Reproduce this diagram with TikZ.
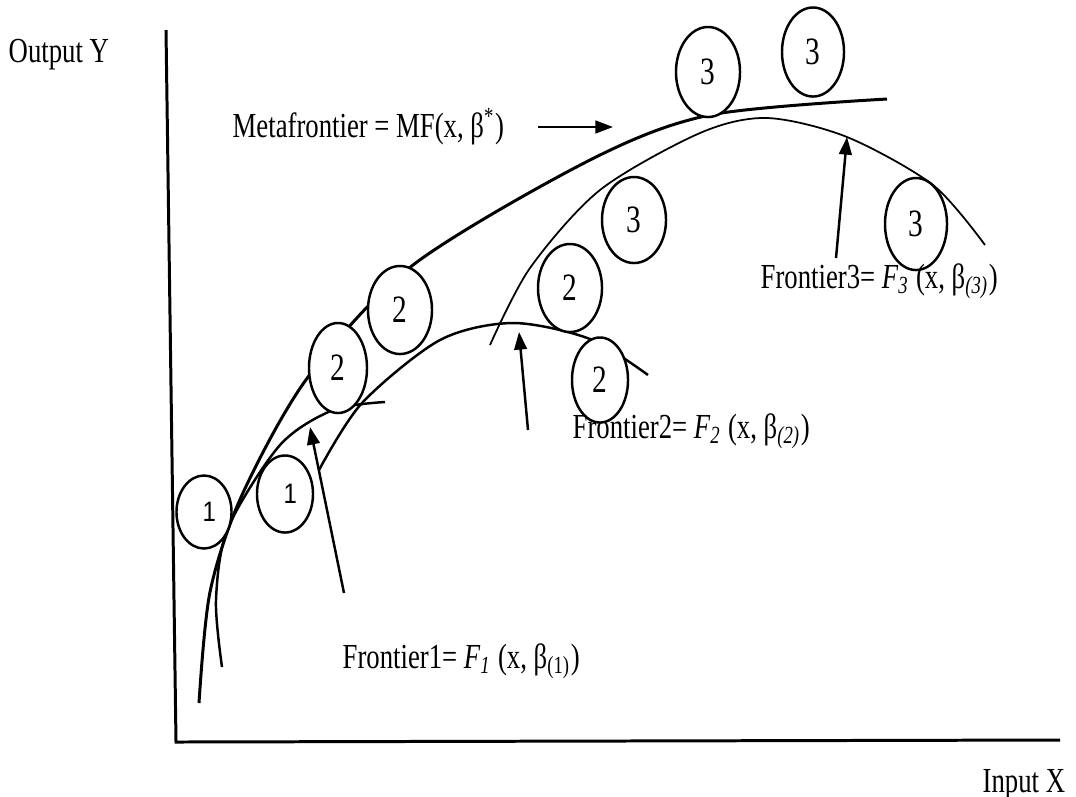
\documentclass[tikz,border=0pt]{standalone}
\usepackage{fontspec}
\setmainfont{Liberation Serif}[FakeStretch=0.76]
\newfontfamily\digitsans{Liberation Sans}[FakeStretch=0.85]
\usetikzlibrary{arrows.meta,shapes.geometric}

\begin{document}
\begin{tikzpicture}[
  x=0.01cm, y=-0.01cm,
  font=\fontsize{10}{12}\selectfont,
  >={Triangle[length=5pt,width=3.6pt]},
  axis/.style={line width=0.85pt},
  meta/.style={line width=0.85pt},
  front/.style={line width=0.7pt},
  thin/.style={line width=0.5pt},
  grp/.style={ellipse, draw, fill=white, line width=0.7pt, inner sep=0pt,
    minimum width=0.62cm, minimum height=0.88cm, font=\fontsize{11}{12}\selectfont},
  grpone/.style={grp, font=\digitsans\fontsize{8}{9}\selectfont},
  lbl/.style={anchor=base west, inner sep=0pt},
  arr/.style={->, line width=0.7pt},
]
\useasboundingbox (0,0) rectangle (1076,796);

% --- Axes -------------------------------------------------------------------
\coordinate (origin) at (176,742);
\coordinate (ytop) at (166,30);
\coordinate (xend) at (1060,740);
\draw[axis] (ytop) -- (origin) -- (xend);
\node[lbl] (ylab) at (8,62) {Output Y};
\node[lbl] (xlab) at (982,792) {Input X};

% --- Frontiers (drawn first, the groups sit on top) -------------------------
\draw[meta] plot[smooth] coordinates {(199,703) (210,592) (242,495)
  (308,377) (413,265) (590,160) (710,115) (887,99)};
\draw[front] plot[smooth] coordinates {(222,667) (216,600) (228,528)
  (280,445) (333,410) (385,402)};
\draw[front] plot[smooth] coordinates {(319,470) (362,403) (440,340)
  (513,323) (590,339) (648,375)};
\draw[thin] plot[smooth] coordinates {(490,345) (530,268) (600,190)
  (700,133) (767,118) (847,137) (933,185) (985,245)};

% --- Groups -----------------------------------------------------------------
\node[grpone, minimum width=0.55cm, minimum height=0.73cm] (g1a) at (204,512) {\raisebox{-2pt}{\hspace{3pt}1}};
\node[grpone, minimum width=0.56cm, minimum height=0.77cm] (g1b) at (285,494) {\hspace{3pt}1};
\node[grp, minimum width=0.58cm, minimum height=0.9cm] (g2a) at (338,368) {2};
\node[grp, minimum width=0.64cm] (g2b) at (400,310) {2};
\node[grp, minimum width=0.64cm] (g2c) at (570,288) {2};
\node[grp, minimum width=0.56cm, minimum height=0.85cm] (g2d) at (600,380) {2};
\node[grp, minimum width=0.64cm, minimum height=0.86cm] (g3a) at (634,220) {3};
\node[grp, minimum width=0.64cm, minimum height=0.9cm] (g3b) at (708,72) {3};
\node[grp, minimum height=0.89cm] (g3c) at (813,52) {3};
\node[grp, minimum height=0.92cm] (g3d) at (916,224) {3};

% --- Labels and pointers ----------------------------------------------------
\node[lbl] (metalab) at (232,137) {Metafrontier = MF(x, β\textsuperscript{*})};
\coordinate (metatail) at (538,127);
\coordinate (metahead) at (613,127);
\draw[arr] (metatail) -- (metahead);

\node[lbl] (f3lab) at (760,288)
  {Frontier3= \textit{F\textsubscript{3}} (x, β\textsubscript{\textit{(3)}})};
\coordinate (f3tail) at (836,258);
\coordinate (f3head) at (847,137);
\draw[arr] (f3tail) -- (f3head);

\node[lbl] (f2lab) at (572,438)
  {Frontier2= \textit{F\textsubscript{2}} (x, β\textsubscript{\textit{(2)}})};
\coordinate (f2tail) at (528,430);
\coordinate (f2head) at (519,332);
\draw[arr] (f2tail) -- (f2head);

\node[lbl] (f1lab) at (342,668)
  {Frontier1= \textit{F\textsubscript{1}} (x, β\textsubscript{(1)})};
\coordinate (f1tail) at (344,593);
\coordinate (f1head) at (310,427);
\draw[arr] (f1tail) -- (f1head);

\end{tikzpicture}
\end{document}
